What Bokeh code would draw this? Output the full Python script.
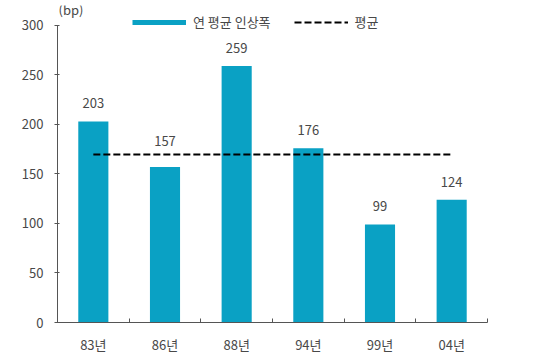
from bokeh.plotting import figure
from bokeh.models import (FixedTicker, Legend, LegendItem, ColumnDataSource, Range1d, Label)
from bokeh.embed import file_html
from bokeh.resources import INLINE

categories = ["83년", "86년", "88년", "94년", "99년", "04년"]
values = [203, 157, 259, 176, 99, 124]
y_ticks = [0, 50, 100, 150, 200, 250, 300]
series_name = "연 평균 인상폭"
avg_name = "평균"
unit_label = "(bp)"

FONT = "Noto Sans CJK KR"
BAR_COLOR = "#0AA1C4"
TEXT_COLOR = "#484848"
AXIS_COLOR = "#555555"

n = len(categories)
centers = [i + 0.5 for i in range(n)]
bounds = [float(i) for i in range(n + 1)]
avg = sum(values) / n
y_max = y_ticks[-1]
nan = float("nan")

# label offsets (style): lift label that would collide with the average line
label_offsets = [-(13 + (8 if (v < avg and v > avg - 20) else 0)) for v in values]

p = figure(width=532, height=356, output_backend="svg", toolbar_location=None,
           x_range=Range1d(0, n), y_range=Range1d(0, 320),
           min_border_left=57, min_border_right=45, min_border_top=5, min_border_bottom=28)
p.outline_line_color = None
p.grid.grid_line_color = None
p.background_fill_color = "white"
p.border_fill_color = "white"

src = ColumnDataSource(dict(x=centers, top=values, label=[str(v) for v in values], yoff=label_offsets))
p.vbar(x="x", top="top", width=0.42, bottom=0, source=src, fill_color=BAR_COLOR, line_color=None)

p.text(x="x", y="top", text="label", source=src, text_align="center", text_baseline="bottom",
       y_offset="yoff", text_font_size="13px", text_color=TEXT_COLOR, text_font={"value": FONT})

avg_src = ColumnDataSource(dict(x=[centers[0], centers[-1]], y=[avg, avg]))
avg_r = p.line(x="x", y="y", source=avg_src, line_color="black", line_width=2, line_dash="7 3")

legend_bar = p.line(x=[nan, nan], y=[nan, nan], line_color=BAR_COLOR, line_width=5)

legend = Legend(items=[LegendItem(label=series_name, renderers=[legend_bar]),
                       LegendItem(label=avg_name, renderers=[avg_r])],
                orientation="horizontal", location=(75, 291),
                glyph_width=54, glyph_height=12, label_standoff=7, spacing=23,
                padding=0, margin=0, border_line_color=None, background_fill_alpha=0,
                label_text_font=FONT, label_text_font_size="13px", label_text_color=TEXT_COLOR)
p.add_layout(legend, "center")

# axes
p.xaxis.ticker = FixedTicker(ticks=centers, minor_ticks=bounds)
p.xaxis.major_label_overrides = {c: cat for c, cat in zip(centers, categories)}
p.xaxis.major_tick_line_color = None
p.xaxis.minor_tick_in = 4
p.xaxis.minor_tick_out = 0
p.xaxis.minor_tick_line_color = AXIS_COLOR
p.xaxis.axis_line_color = AXIS_COLOR
p.xaxis.major_label_standoff = 6
p.xaxis.major_label_text_font = FONT
p.xaxis.major_label_text_font_size = "13px"
p.xaxis.major_label_text_color = TEXT_COLOR

p.yaxis.ticker = FixedTicker(ticks=y_ticks)
p.yaxis.bounds = (0, y_max)
p.yaxis.minor_tick_line_color = None
p.yaxis.major_tick_in = 2
p.yaxis.major_tick_out = 3
p.yaxis.major_tick_line_color = AXIS_COLOR
p.yaxis.axis_line_color = AXIS_COLOR
p.yaxis.major_label_standoff = 11
p.yaxis.major_label_text_font = FONT
p.yaxis.major_label_text_font_size = "13px"
p.yaxis.major_label_text_color = TEXT_COLOR

p.add_layout(Label(x=0, y=y_max, x_units="data", y_units="data", text=unit_label,
                   x_offset=1, y_offset=6, text_font=FONT, text_font_size="13px",
                   text_color=TEXT_COLOR))

open("out.html", "w").write(file_html(p, INLINE))
